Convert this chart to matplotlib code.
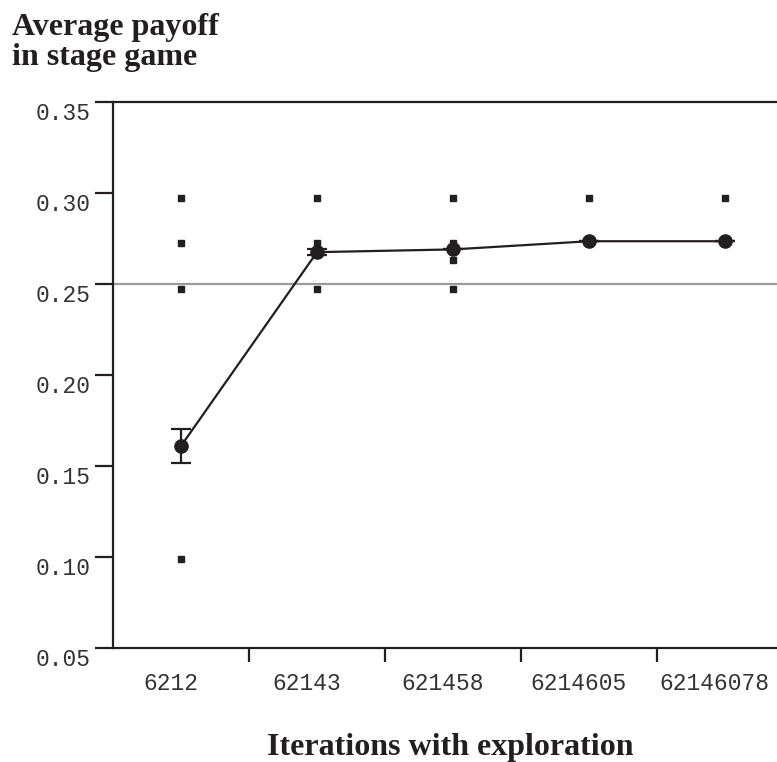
import numpy as np
import matplotlib
matplotlib.use("Agg")
import matplotlib.pyplot as plt

# categories on the x axis
iterations = ["6212", "62143", "621458", "6214605", "62146078"]

# mean payoff and error bar half-width per category
mean_payoff = [0.161, 0.2675, 0.269, 0.2735, 0.2735]
payoff_err = [0.0095, 0.0015, 0.0, 0.0, 0.0]

# individual runs (small squares)
runs_cat = [0, 0, 0, 0, 1, 1, 1, 2, 2, 2, 2, 3, 4]
runs_val = [0.297, 0.2725, 0.247, 0.099,
            0.297, 0.2725, 0.247,
            0.297, 0.2725, 0.263, 0.247,
            0.297, 0.297]

reference_payoff = 0.25

ink = "#231f20"

fig = plt.figure(figsize=(7.77, 7.62), dpi=100)
ax = fig.add_axes([113 / 777, 1 - 648 / 762, 680 / 777, 546 / 762])

x = np.arange(len(iterations))

ax.axhline(reference_payoff, color="#9a9a9a", lw=1.6, zorder=1)
ax.plot(runs_cat, runs_val, ls="none", marker="s", ms=4.2, color=ink, zorder=2)
ax.errorbar(x, mean_payoff, yerr=payoff_err, color=ink, lw=1.6, marker="o",
            ms=9.5, capsize=7, capthick=1.6, elinewidth=1.6, zorder=3)

ax.set_xlim(-0.5, len(iterations) - 0.5)
ax.set_ylim(0.05, 0.35)
ax.set_yticks(np.arange(0.05, 0.351, 0.05))
ax.set_yticklabels([f"{v:.2f}" for v in np.arange(0.05, 0.351, 0.05)])

# category labels (sit slightly left of the centres), tick marks between categories
ax.set_xticks(x - 0.078)
ax.set_xticklabels(iterations)
ax.tick_params(axis="x", which="major", length=0, pad=17.5)
ax.set_xticks(np.arange(0.5, len(iterations), 1.0), minor=True)
ax.tick_params(axis="x", which="minor", length=10, width=1.6, color=ink, direction="out")
ax.tick_params(axis="y", length=13, width=1.6, color=ink, direction="out", pad=3)

for lab in ax.get_xticklabels() + ax.get_yticklabels():
    lab.set_family("Liberation Mono")
    lab.set_fontsize(16.5)
    lab.set_color("#333333")
# y labels hang just below their tick in the original
for lab in ax.get_yticklabels():
    lab.set_verticalalignment("top")

for side in ["left", "bottom", "top", "right"]:
    ax.spines[side].set_linewidth(1.6)
    ax.spines[side].set_color(ink)

title_kw = dict(ha="left", va="baseline", family="Liberation Serif", weight="bold",
                fontsize=23, color=ink)
fig.text(12 / 777, 1 - 35 / 762, "Average payoff", **title_kw)
fig.text(12 / 777, 1 - 65 / 762, "in stage game", **title_kw)
fig.text(450 / 777, 1 - 755 / 762, "Iterations with exploration", ha="center", va="baseline",
         family="Liberation Serif", weight="bold", fontsize=23, color=ink)

fig.savefig("out.png", dpi=100)
